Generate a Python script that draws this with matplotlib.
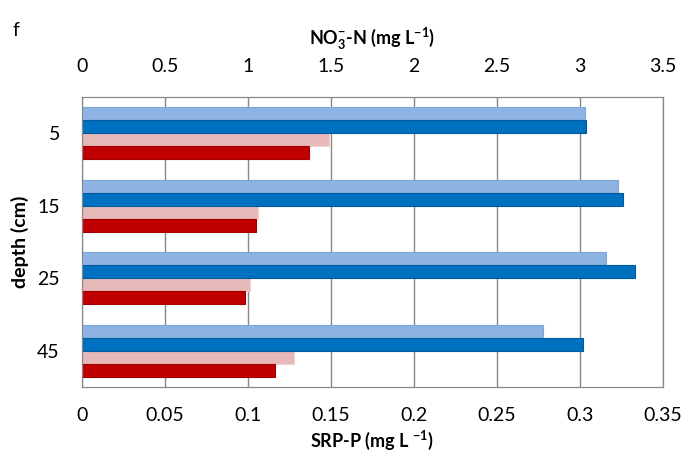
import matplotlib.pyplot as plt
import numpy as np

plt.rcParams['font.family'] = ['Lato', 'DejaVu Sans']
plt.rcParams['mathtext.default'] = 'regular'

depths = ['5', '15', '25', '45']
# NO3-N (top axis, mg/L)
no3_a = [3.03, 3.23, 3.16, 2.78]   # light blue
no3_b = [3.04, 3.26, 3.33, 3.02]   # dark blue
# SRP-P (bottom axis, mg/L)
srp_a = [0.149, 0.106, 0.101, 0.128]  # light pink
srp_b = [0.137, 0.105, 0.098, 0.116]  # dark red

fig = plt.figure(figsize=(6.84, 4.62), dpi=100)
ax = fig.add_axes([0.12, 0.162, 0.849, 0.628])
top = ax.twiny()

y = np.arange(len(depths))
h = 0.18
top.barh(y - 1.5 * h, no3_a, height=h, color='#8DB3E2', edgecolor='#7FA5D6', linewidth=0.8)
top.barh(y - 0.5 * h, no3_b, height=h, color='#0070C0', edgecolor='#005A9E', linewidth=0.8)
ax.barh(y + 0.5 * h, srp_a, height=h, color='#E6B9B8', edgecolor='#F0D0D0', linewidth=0.8)
ax.barh(y + 1.5 * h, srp_b, height=h, color='#C00000', edgecolor='#A00000', linewidth=0.8)

ax.set_xlim(0, 0.35)
top.set_xlim(0, 3.5)
ax.set_ylim(len(depths) - 0.5, -0.5)
ax.set_yticks(y)
ax.set_yticklabels(depths)
ax.set_xticks(np.arange(0, 0.351, 0.05))
ax.set_xticklabels(['0', '0.05', '0.1', '0.15', '0.2', '0.25', '0.3', '0.35'])
top.set_xticks(np.arange(0, 3.51, 0.5))
top.set_xticklabels(['0', '0.5', '1', '1.5', '2', '2.5', '3', '3.5'])

ax.set_axisbelow(True)
ax.grid(axis='x', color='#888888', linewidth=1)
ax.tick_params(axis='x', length=0, labelsize=14, pad=14)
ax.tick_params(axis='y', length=0, labelsize=14, pad=16)
top.tick_params(axis='x', length=0, labelsize=14, pad=16)
for a in (ax, top):
    for s in a.spines.values():
        s.set_color('#888888')

ax.set_xlabel('SRP-P (mg L $^{-1}$)', fontsize=13, fontweight='bold', labelpad=4)
top.set_xlabel('NO$_3^{-}$-N (mg L$^{-1}$)', fontsize=13, fontweight='bold', labelpad=9)
ax.set_ylabel('depth (cm)', fontsize=14, fontweight='bold')
ax.yaxis.set_label_coords(-0.091, 0.5)
fig.text(0.018, 0.935, 'f', fontsize=14, va='center')

fig.savefig('out.png', dpi=100)
